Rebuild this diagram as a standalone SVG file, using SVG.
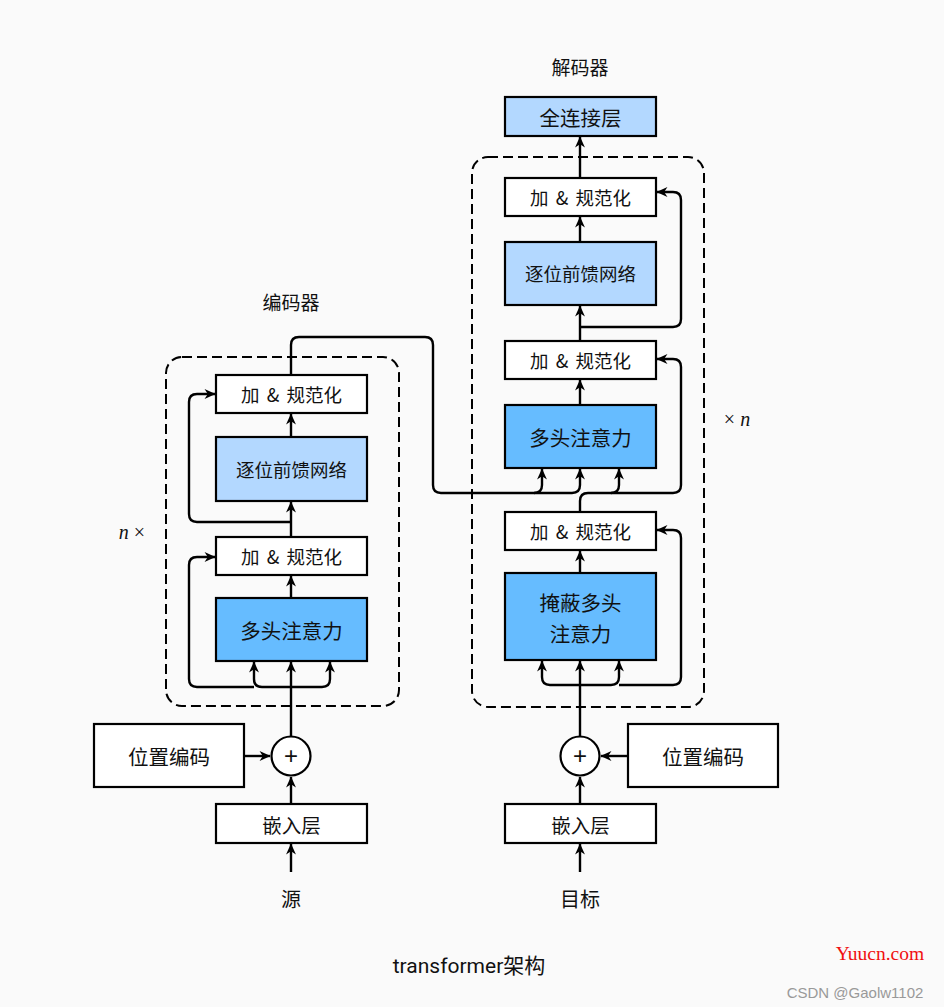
<svg xmlns="http://www.w3.org/2000/svg" width="944" height="1007" viewBox="0 0 944 1007">
<defs>
<marker id="ar" viewBox="0 0 10 10" refX="9.5" refY="5" markerWidth="12" markerHeight="11" markerUnits="userSpaceOnUse" orient="auto">
<path d="M0,0.5 L10,5 L0,9.5 L3,5 Z" fill="#000"/>
</marker>
<style>
.box{fill:#fff;stroke:#000;stroke-width:2.2}
.lb{fill:#b3d8ff;stroke:#000;stroke-width:2.2}
.db{fill:#66bcff;stroke:#000;stroke-width:2.2}
.dash{fill:none;stroke:#000;stroke-width:2;stroke-dasharray:10,5}
.t{font-family:"Noto Sans CJK SC","Noto Sans",sans-serif;fill:#111;text-anchor:middle;dominant-baseline:central}
.an{word-spacing:3px}
.c{fill:none;stroke:#000;stroke-width:2.4;marker-end:url(#ar)}
.p{fill:none;stroke:#000;stroke-width:2.4}
.m{font-family:"Liberation Serif",serif;font-size:20px;fill:#111;text-anchor:middle;dominant-baseline:central}
.plus{font-family:"Liberation Sans",sans-serif;font-size:24px;font-weight:300;fill:#111;text-anchor:middle;dominant-baseline:central}
</style>
</defs>
<rect width="944" height="1007" fill="#fafafa"/>

<g id="labels">
<text class="t" x="291" y="301" font-size="19">编码器</text>
<text class="t" x="580" y="66" font-size="19">解码器</text>
<text class="m" x="132" y="532"><tspan font-style="italic">n</tspan> ×</text>
<text class="m" x="737" y="419">× <tspan font-style="italic">n</tspan></text>
<text class="t" x="291" y="898" font-size="20">源</text>
<text class="t" x="580" y="898" font-size="20">目标</text>
<text class="t" x="469" y="966" font-size="21" style="font-family:Roboto,'Noto Sans CJK SC',sans-serif">transformer架构</text>
<text x="880" y="953" font-family="Liberation Serif,serif" font-size="19.5" fill="#f01010" text-anchor="middle" dominant-baseline="central">Yuucn.com</text>
<text x="855" y="992" font-family="Liberation Sans,sans-serif" font-size="15" fill="#999" text-anchor="middle" dominant-baseline="central">CSDN @Gaolw1102</text>
</g>

<g id="encoder-block"><rect class="dash" x="166" y="357" width="233" height="349" rx="16"/></g>
<g id="decoder-block"><rect class="dash" x="472" y="157" width="232" height="550" rx="16"/></g>

<g id="connectors">
<path class="c" d="M291,872 V844"/>
<path class="c" d="M291,804 V777"/>
<path class="c" d="M244,756 H270"/>
<path class="c" d="M291,736 V662"/>
<path class="c" d="M291,687 H262 Q254,687 254,679 V662"/>
<path class="c" d="M291,687 H322 Q330,687 330,679 V662"/>
<path class="c" d="M254,687 H197 Q189,687 189,679 V565 Q189,557 197,557 H215"/>
<path class="c" d="M291,598 V576"/>
<path class="c" d="M291,537 V502"/>
<path class="c" d="M291,522 H197 Q189,522 189,514 V402 Q189,394 197,394 H215"/>
<path class="c" d="M291,437 V414"/>
<path class="p" d="M291,375 V345 Q291,337 299,337 H425 Q433,337 433,345 V485 Q433,493 441,493 H534"/>
<path class="c" d="M534,493 Q542,493 542,485 V469"/>
<path class="c" d="M534,493 H572 Q580,493 580,485 V469"/>
<path class="p" d="M580,512 V501 Q580,493 588,493 H611"/>
<path class="c" d="M611,493 Q619,493 619,485 V469"/>
<path class="c" d="M611,493 H673 Q681,493 681,485 V367 Q681,359 673,359 H657"/>

<path class="c" d="M580,872 V844"/>
<path class="c" d="M580,804 V777"/>
<path class="c" d="M628,756 H601"/>
<path class="c" d="M580,736 V661"/>
<path class="c" d="M580,685 H550 Q542,685 542,677 V661"/>
<path class="c" d="M580,685 H611 Q619,685 619,677 V661"/>
<path class="c" d="M619,685 H673 Q681,685 681,677 V538 Q681,530 673,530 H657"/>
<path class="c" d="M580,573 V551"/>
<path class="c" d="M580,405 V380"/>
<path class="c" d="M580,341 V306"/>
<path class="c" d="M580,327 H673 Q681,327 681,319 V200 Q681,192 673,192 H657"/>
<path class="c" d="M580,242 V217"/>
<path class="c" d="M580,178 V137"/>
</g>

<g id="enc-addnorm2"><rect class="box" x="216" y="375" width="151" height="38"/><text class="t an" x="291.5" y="394" font-size="18.5">加 &amp; 规范化</text></g>
<g id="enc-ffn"><rect class="lb" x="216" y="437" width="151" height="64"/><text class="t" x="291.5" y="469" font-size="18.5">逐位前馈网络</text></g>
<g id="enc-addnorm1"><rect class="box" x="216" y="537" width="151" height="38"/><text class="t an" x="291.5" y="556" font-size="18.5">加 &amp; 规范化</text></g>
<g id="enc-mha"><rect class="db" x="216" y="598" width="151" height="63"/><text class="t" x="291.5" y="630" font-size="20.5">多头注意力</text></g>
<g id="enc-pos"><rect class="box" x="94" y="724" width="150" height="63"/><text class="t" x="169" y="756" font-size="20.5">位置编码</text></g>
<g id="enc-add"><circle cx="291" cy="756" r="19.5" fill="#fff" stroke="#000" stroke-width="2.2"/><text class="plus" x="291" y="755">+</text></g>
<g id="enc-embed"><rect class="box" x="216" y="804" width="151" height="39"/><text class="t" x="291.5" y="824" font-size="19.5">嵌入层</text></g>

<g id="dec-fc"><rect class="lb" x="505" y="97" width="151" height="39"/><text class="t" x="580.5" y="117" font-size="20.5">全连接层</text></g>
<g id="dec-addnorm3"><rect class="box" x="505" y="178" width="151" height="38"/><text class="t an" x="580.5" y="197" font-size="18.5">加 &amp; 规范化</text></g>
<g id="dec-ffn"><rect class="lb" x="505" y="242" width="151" height="63"/><text class="t" x="580.5" y="273" font-size="18.5">逐位前馈网络</text></g>
<g id="dec-addnorm2"><rect class="box" x="505" y="341" width="151" height="38"/><text class="t an" x="580.5" y="360" font-size="18.5">加 &amp; 规范化</text></g>
<g id="dec-mha"><rect class="db" x="505" y="405" width="151" height="63"/><text class="t" x="580.5" y="437" font-size="20.5">多头注意力</text></g>
<g id="dec-addnorm1"><rect class="box" x="505" y="512" width="151" height="38"/><text class="t an" x="580.5" y="531" font-size="18.5">加 &amp; 规范化</text></g>
<g id="dec-masked"><rect class="db" x="505" y="573" width="151" height="87"/><text class="t" x="580.5" y="602" font-size="20.5">掩蔽多头</text><text class="t" x="580.5" y="633" font-size="20.5">注意力</text></g>
<g id="dec-pos"><rect class="box" x="628" y="724" width="150" height="63"/><text class="t" x="703" y="756" font-size="20.5">位置编码</text></g>
<g id="dec-add"><circle cx="580" cy="756" r="19.5" fill="#fff" stroke="#000" stroke-width="2.2"/><text class="plus" x="580" y="755">+</text></g>
<g id="dec-embed"><rect class="box" x="505" y="804" width="151" height="39"/><text class="t" x="580.5" y="824" font-size="19.5">嵌入层</text></g>
</svg>
